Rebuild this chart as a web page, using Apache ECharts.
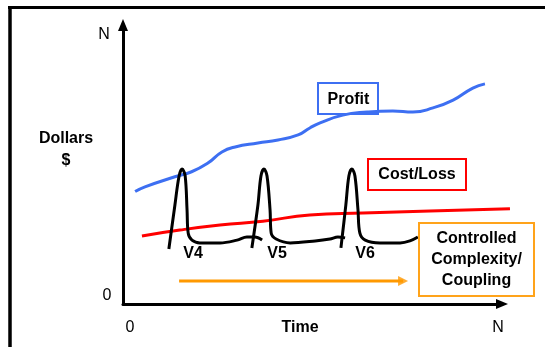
<!DOCTYPE html>
<html>
<head>
<meta charset="utf-8">
<script src="https://cdn.jsdelivr.net/npm/echarts@6/dist/echarts.min.js"></script>
<style>
html,body{margin:0;padding:0;background:#fff;}
#c{width:545px;height:347px;}
</style>
</head>
<body>
<div id="c"></div>
<script>
// ---- data (time 0..100, dollars 0..100) ----
const xTickLabels = ['0', 'N'];
const yTickLabels = ['0', 'N'];
const xAxisTitle = 'Time';
const yAxisTitle = ['Dollars', '$'];

const profitSeries = [[3.2,40.3],[5.8,42.0],[13.7,45.6],[18.1,47.4],[22.4,50.5],[26.1,54.5],[29.6,56.3],[35.6,57.7],[40.9,58.8],[46.2,60.6],[49.3,63.1],[52.0,64.9],[58.0,67.7],[64.4,68.8],[71.2,69.2],[76.5,68.8],[81.8,70.3],[87.1,73.1],[92.3,77.4],[95.5,78.9]];
const costSeries = [[5.0,24.4],[15.0,26.5],[25.6,28.3],[36.9,29.7],[49.3,31.9],[63.3,32.6],[81.0,33.3],[102.1,34.1]];
const beatV4 = [[12.1,19.7],[13.7,35.5],[14.8,45.9],[15.6,48.4],[16.4,45.9],[16.9,33.7],[17.2,25.4],[18.2,22.9],[20.3,21.9],[25.6,21.9],[30.1,22.9],[32.7,24.0],[34.8,24.0],[36.7,22.9]];
const beatV5 = [[34.0,20.1],[35.6,35.5],[36.4,45.9],[37.2,48.4],[38.0,45.9],[38.8,33.7],[39.1,25.4],[40.4,23.3],[44.1,21.9],[50.7,22.6],[54.6,23.3],[56.7,24.0],[58.6,23.7]];
const beatV6 = [[57.5,20.1],[58.8,35.5],[59.6,45.9],[60.4,48.4],[61.2,45.9],[62.0,33.7],[62.5,25.4],[63.9,22.9],[67.8,21.9],[73.1,21.9],[75.7,22.6],[77.8,24.0]];
const beatNames = ['V4', 'V5', 'V6'];
const arrowSeries = [[14.8,8.2],[73.9,8.2]];
const boxTexts = ['Profit', 'Cost/Loss', 'Controlled\nComplexity/\nCoupling'];

const FONT = '"Liberation Sans", Arial, sans-serif';
const chart = echarts.init(document.getElementById('c'), null, {renderer: 'canvas'});

function txt(x, y, s, size, bold, align) {
  return {type: 'text', x: x, y: y, z: 100, style: {text: s, fill: '#000', font: (bold ? 'bold ' : '') + size + 'px ' + FONT, align: align || 'center', verticalAlign: 'middle', lineHeight: 21}};
}
function box(x, y, w, h, color) {
  return {type: 'rect', z: 90, shape: {x: x, y: y, width: w, height: h}, style: {fill: 'none', stroke: color, lineWidth: 2}};
}

const costMax = costSeries[costSeries.length - 1][0];
const plotW = 545 - 123 - 43;

const option = {
  animation: false,
  backgroundColor: '#fff',
  grid: [
    {left: 123, right: 43, top: 25, bottom: 43},
    // same scale, just extended to the last cost point so it is not clipped
    {left: 123, right: 545 - 123 - plotW * costMax / 100, top: 25, bottom: 43}
  ],
  xAxis: [
    {type: 'value', gridIndex: 0, min: 0, max: 100,
      axisLine: {show: true, onZero: false, symbol: ['none', 'triangle'], symbolSize: [10, 12], lineStyle: {color: '#000', width: 3}},
      axisTick: {show: false}, axisLabel: {show: false}, splitLine: {show: false}},
    {type: 'value', gridIndex: 1, min: 0, max: costMax, show: false}
  ],
  yAxis: [
    {type: 'value', gridIndex: 0, min: 0, max: 100,
      axisLine: {show: true, onZero: false, symbol: ['none', 'triangle'], symbolSize: [10, 12], lineStyle: {color: '#000', width: 3}},
      axisTick: {show: false}, axisLabel: {show: false}, splitLine: {show: false}},
    {type: 'value', gridIndex: 1, min: 0, max: 100, show: false}
  ],
  series: [
    {type: 'line', data: profitSeries, smooth: true, showSymbol: false, clip: false, lineStyle: {color: '#3d6ff2', width: 3}, z: 3},
    {type: 'line', xAxisIndex: 1, yAxisIndex: 1, data: costSeries, smooth: true, showSymbol: false, clip: false, lineStyle: {color: '#ff0000', width: 3}, z: 3},
    {type: 'line', name: beatNames[0], data: beatV4, smooth: 0.35, showSymbol: false, lineStyle: {color: '#000', width: 3}, z: 4},
    {type: 'line', name: beatNames[1], data: beatV5, smooth: 0.35, showSymbol: false, lineStyle: {color: '#000', width: 3}, z: 4},
    {type: 'line', name: beatNames[2], data: beatV6, smooth: 0.35, showSymbol: false, lineStyle: {color: '#000', width: 3}, z: 4},
    {type: 'line', data: arrowSeries, showSymbol: false, lineStyle: {color: '#ff9900', width: 3}, z: 3},
    {type: 'scatter', data: [arrowSeries[1]], symbol: 'triangle', symbolSize: [10, 10], symbolRotate: -90, itemStyle: {color: '#ff9900'}, z: 3}
  ],
  graphic: [
    {type: 'line', shape: {x1: 8, y1: 7.5, x2: 545, y2: 7.5}, style: {stroke: '#000', lineWidth: 3}},
    {type: 'line', shape: {x1: 10, y1: 6, x2: 10, y2: 347}, style: {stroke: '#000', lineWidth: 3.5}},
    txt(104, 35, yTickLabels[1], 16, false),
    txt(107, 296, yTickLabels[0], 16, false),
    txt(130, 328, xTickLabels[0], 16, false),
    txt(498, 328, xTickLabels[1], 16, false),
    txt(300, 328, xAxisTitle, 16, true),
    txt(66, 139, yAxisTitle[0], 16, true),
    txt(66, 161, yAxisTitle[1], 16, true),
    txt(193, 254, beatNames[0], 16, true),
    txt(277, 254, beatNames[1], 16, true),
    txt(365, 254, beatNames[2], 16, true),
    box(318, 83, 60, 31, '#3d6ff2'),
    txt(348.5, 100, boxTexts[0], 16, true),
    box(368, 159, 98, 31, '#ff0000'),
    txt(417, 175, boxTexts[1], 16, true),
    box(419, 223, 115, 73, '#ffa31a'),
    txt(476.5, 260, boxTexts[2], 16, true)
  ]
};
chart.setOption(option);
</script>
</body>
</html>
